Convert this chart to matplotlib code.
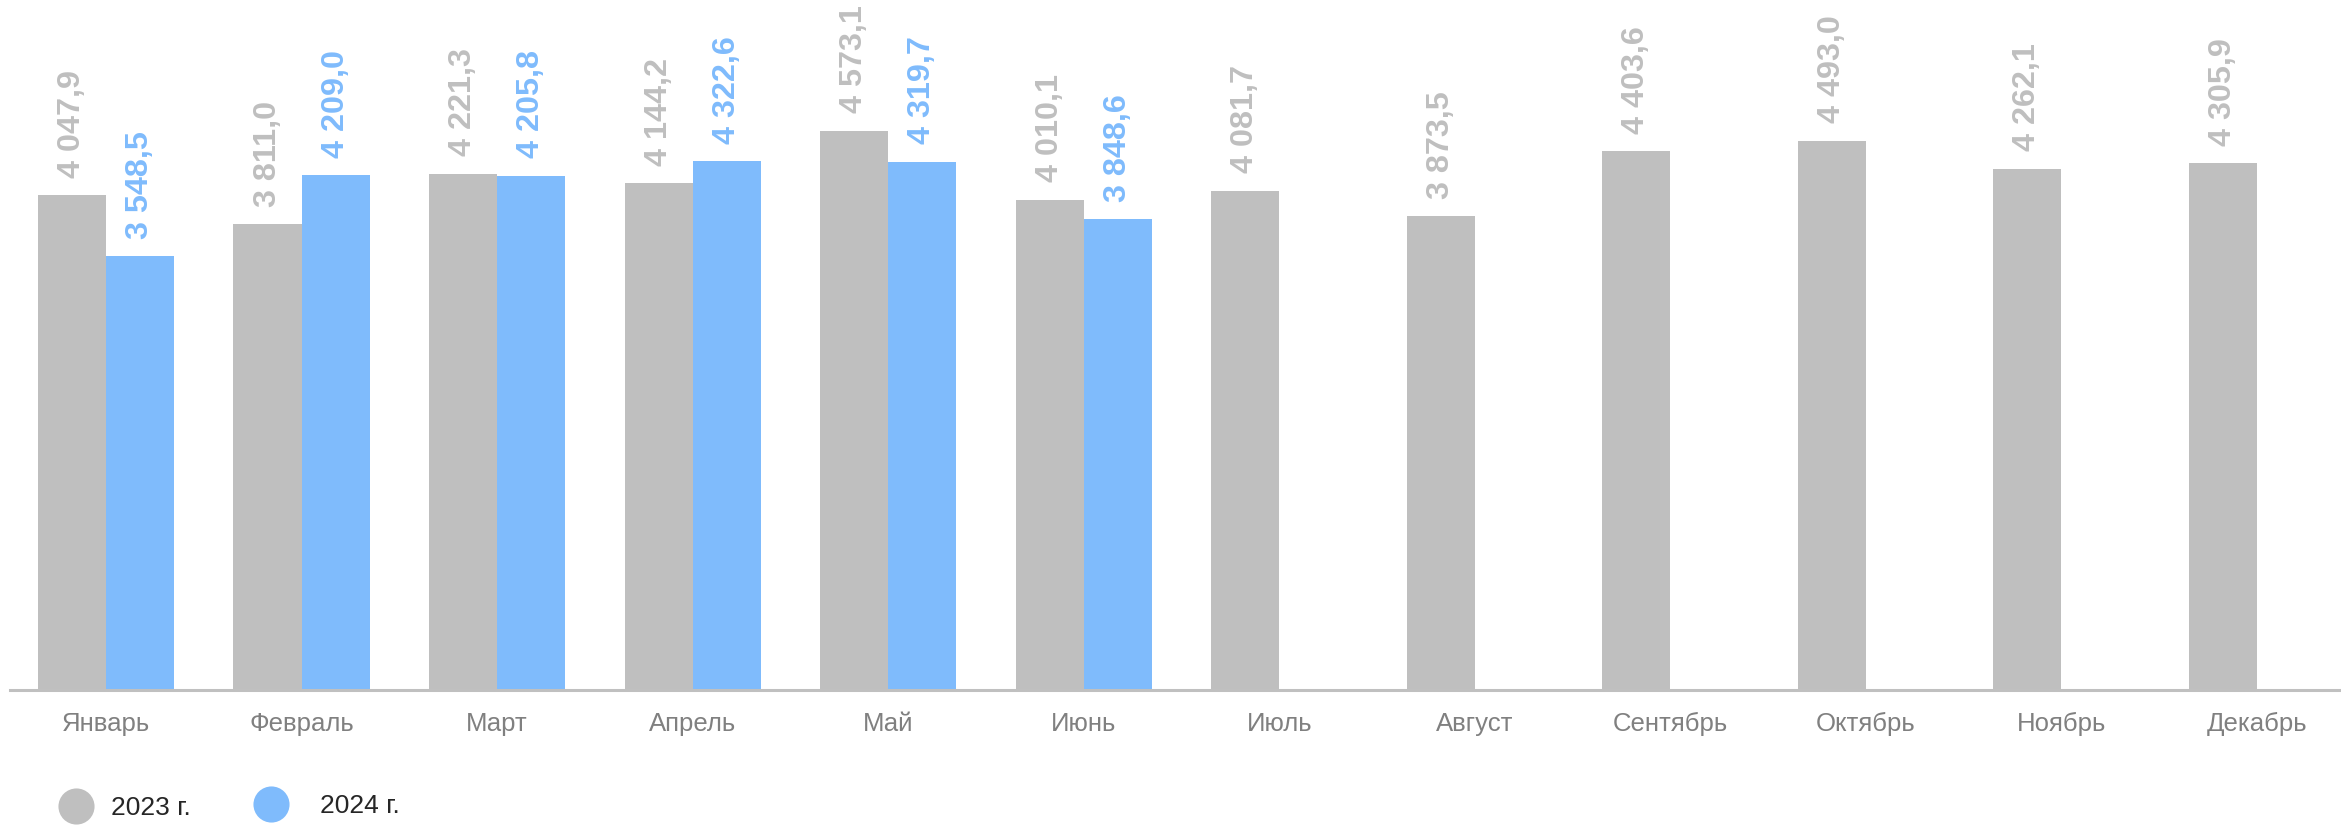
import matplotlib
matplotlib.use("Agg")
import matplotlib.pyplot as plt
from matplotlib.lines import Line2D
import numpy as np

plt.rcParams['font.family'] = ['Liberation Sans', 'DejaVu Sans']

months = ["Январь", "Февраль", "Март", "Апрель", "Май", "Июнь", "Июль",
          "Август", "Сентябрь", "Октябрь", "Ноябрь", "Декабрь"]
values_2023 = [4047.9, 3811.0, 4221.3, 4144.2, 4573.1, 4010.1, 4081.7,
               3873.5, 4403.6, 4493.0, 4262.1, 4305.9]
values_2024 = [3548.5, 4209.0, 4205.8, 4322.6, 4319.7, 3848.6]
series_names = ["2023 г.", "2024 г."]

GRAY = "#bfbfbf"
BLUE = "#7fbbfc"

W, H = 2341, 826
fig = plt.figure(figsize=(W / 100, H / 100), dpi=100)
ax = fig.add_axes([10 / W, 1 - 690 / H, (W - 10) / W, 690 / H])

bw = 0.348
x = np.arange(len(months))
x24 = np.arange(len(values_2024))
b1 = ax.bar(x - bw / 2, values_2023, width=bw, color=GRAY, linewidth=0)
b2 = ax.bar(x24 + bw / 2, values_2024, width=bw, color=BLUE, linewidth=0)


def fmt(v):
    return f"{v:,.1f}".replace(",", " ").replace(".", ",")


for bars, vals, col in ((b1, values_2023, GRAY), (b2, values_2024, BLUE)):
    for rect, v in zip(bars, vals):
        ax.annotate(fmt(v), (rect.get_x() + rect.get_width() / 2, v),
                    xytext=(0, 12.5), textcoords="offset points",
                    rotation=90, ha="center", va="bottom",
                    fontsize=23.3, fontweight="bold", color=col)

ax.set_xlim(-0.491, 11.43)
ax.set_ylim(0, 5642)
ax.set_xticks(x)
ax.set_xticklabels(months, fontsize=18.5, color="#808080")
ax.tick_params(axis="x", length=0, pad=16)
ax.set_yticks([])
for s in ("top", "right", "left"):
    ax.spines[s].set_visible(False)
ax.spines["bottom"].set_color("#c0c0c0")
ax.spines["bottom"].set_linewidth(2.2)

# legend: two single-entry legends positioned like the reference
h1 = Line2D([], [], marker="o", linestyle="none", markersize=26,
            markerfacecolor=GRAY, markeredgecolor="none")
h2 = Line2D([], [], marker="o", linestyle="none", markersize=26,
            markerfacecolor=BLUE, markeredgecolor="none")
common = dict(frameon=False, fontsize=19, handlelength=1.4, borderpad=0,
              borderaxespad=0, loc="center left", labelcolor="#262626")
leg1 = fig.legend([h1], [series_names[0]], bbox_to_anchor=(58 / W, 1 - 808 / H),
                  handletextpad=0.6, **common)
leg2 = fig.legend([h2], [series_names[1]], bbox_to_anchor=(253 / W, 1 - 806 / H),
                  handletextpad=1.15, **common)

fig.savefig("out.png", dpi=100)
